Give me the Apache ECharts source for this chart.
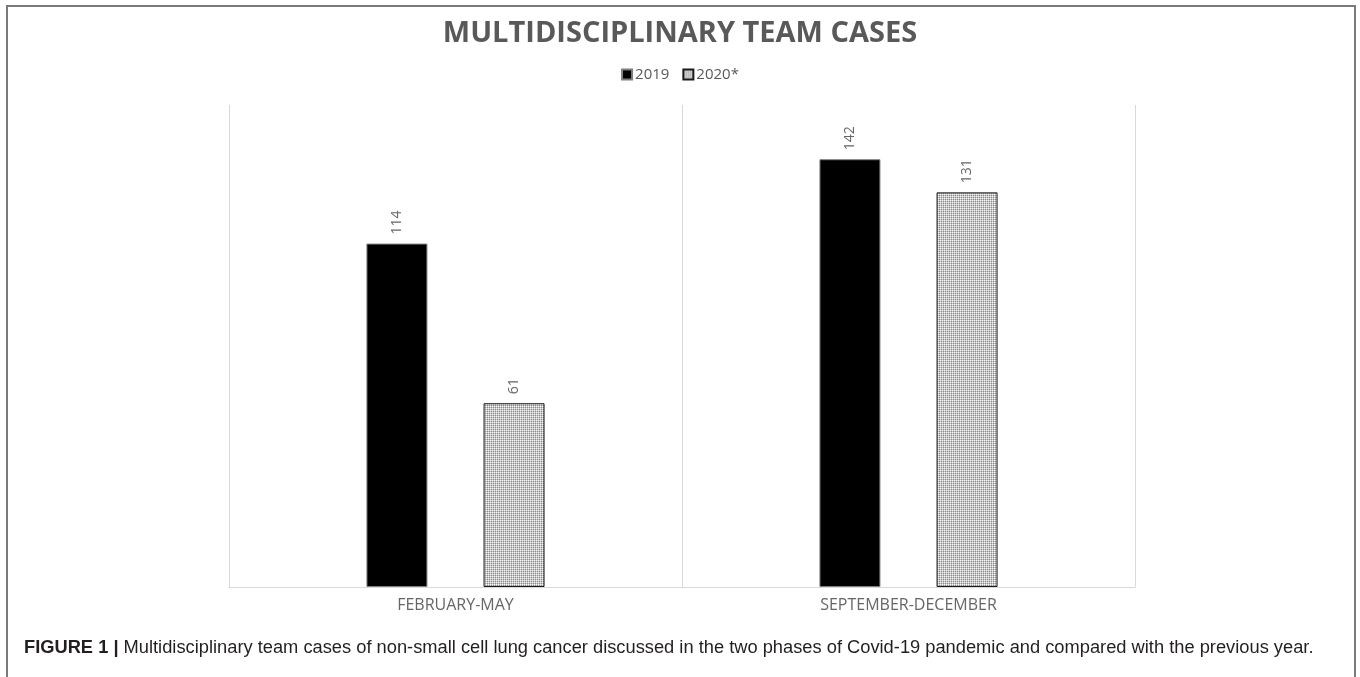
<!DOCTYPE html>
<html><head><meta charset="utf-8">
<script src="https://cdn.jsdelivr.net/npm/echarts@6/dist/echarts.min.js"></script>
<style>html,body{margin:0;padding:0;background:#fff}#c{width:1360px;height:677px}</style>
</head><body><div id="c"></div>
<script>
const categories = ['FEBRUARY-MAY', 'SEPTEMBER-DECEMBER'];
const seriesNames = ['2019', '2020*'];
const values2019 = [114, 142];
const values2020 = [61, 131];
const titleText = 'MULTIDISCIPLINARY TEAM CASES';
const captionBold = 'FIGURE 1 |';
const captionText = ' Multidisciplinary team cases of non-small cell lung cancer discussed in the two phases of Covid-19 pandemic and compared with the previous year.';

function makePattern() {
  const cv = document.createElement('canvas');
  cv.width = 2; cv.height = 2;
  const ctx = cv.getContext('2d');
  ctx.fillStyle = '#f4f4f4'; ctx.fillRect(0, 0, 2, 2);
  ctx.fillStyle = '#8a8a8a';
  ctx.fillRect(1, 1, 1, 1);
  ctx.fillStyle = '#c8c8c8';
  ctx.fillRect(0, 1, 1, 1); ctx.fillRect(1, 0, 1, 1);
  return cv;
}
const pat = makePattern();

const chart = echarts.init(document.getElementById('c'), null, {renderer: 'canvas'});
const labelCfg = {
  show: true, position: 'top', rotate: 90, align: 'left', verticalAlign: 'middle',
  distance: 9, color: '#666666', fontSize: 14, fontFamily: 'Open Sans'
};
chart.setOption({
  animation: false,
  backgroundColor: '#fff',
  title: {
    text: titleText, left: 'center', top: 14,
    textStyle: {fontFamily: 'Open Sans', fontWeight: 'bold', fontSize: 29, color: '#595959'}
  },
  legend: {
    top: 62, left: 'center', itemWidth: 10, itemHeight: 10, itemGap: 13,
    textStyle: {fontFamily: 'Open Sans', fontSize: 15, color: '#595959', padding: [0, 0, 0, -2]},
    data: [
      {name: seriesNames[0], icon: 'rect'},
      {name: seriesNames[1], icon: 'rect'}
    ]
  },
  grid: {left: 229, right: 225, top: 105, bottom: 90},
  xAxis: {
    type: 'category', data: categories,
    axisLine: {show: true, lineStyle: {color: '#d9d9d9', width: 1}},
    axisTick: {show: false},
    splitLine: {show: true, lineStyle: {color: '#d9d9d9', width: 1}},
    axisLabel: {color: '#666666', fontSize: 16, fontFamily: 'Open Sans', margin: 10}
  },
  yAxis: {type: 'value', min: 0, max: 160, show: false, splitLine: {show: false}},
  series: [
    {
      name: seriesNames[0], type: 'bar', data: values2019, barWidth: 61, barGap: '92%',
      itemStyle: {color: '#000000', borderColor: '#7f7f7f', borderWidth: 1},
      label: labelCfg
    },
    {
      name: seriesNames[1], type: 'bar', data: values2020, barWidth: 61,
      itemStyle: {color: {image: pat, repeat: 'repeat'}, borderColor: '#1a1a1a', borderWidth: 1},
      label: labelCfg
    }
  ],
  graphic: [
    {type: 'rect', shape: {x: 7, y: 6, width: 1348, height: 720},
     style: {fill: 'none', stroke: '#7a7a7a', lineWidth: 2}, silent: true},
    {type: 'text', left: 24, top: 639,
     style: {
       text: '{b|' + captionBold + '}{r|' + captionText + '}',
       rich: {
         b: {fontFamily: 'Liberation Sans', fontWeight: 'bold', fontSize: 18.3, fill: '#231f20'},
         r: {fontFamily: 'Liberation Sans', fontSize: 18.3, fill: '#231f20'}
       }
     }}
  ]
});
</script></body></html>
